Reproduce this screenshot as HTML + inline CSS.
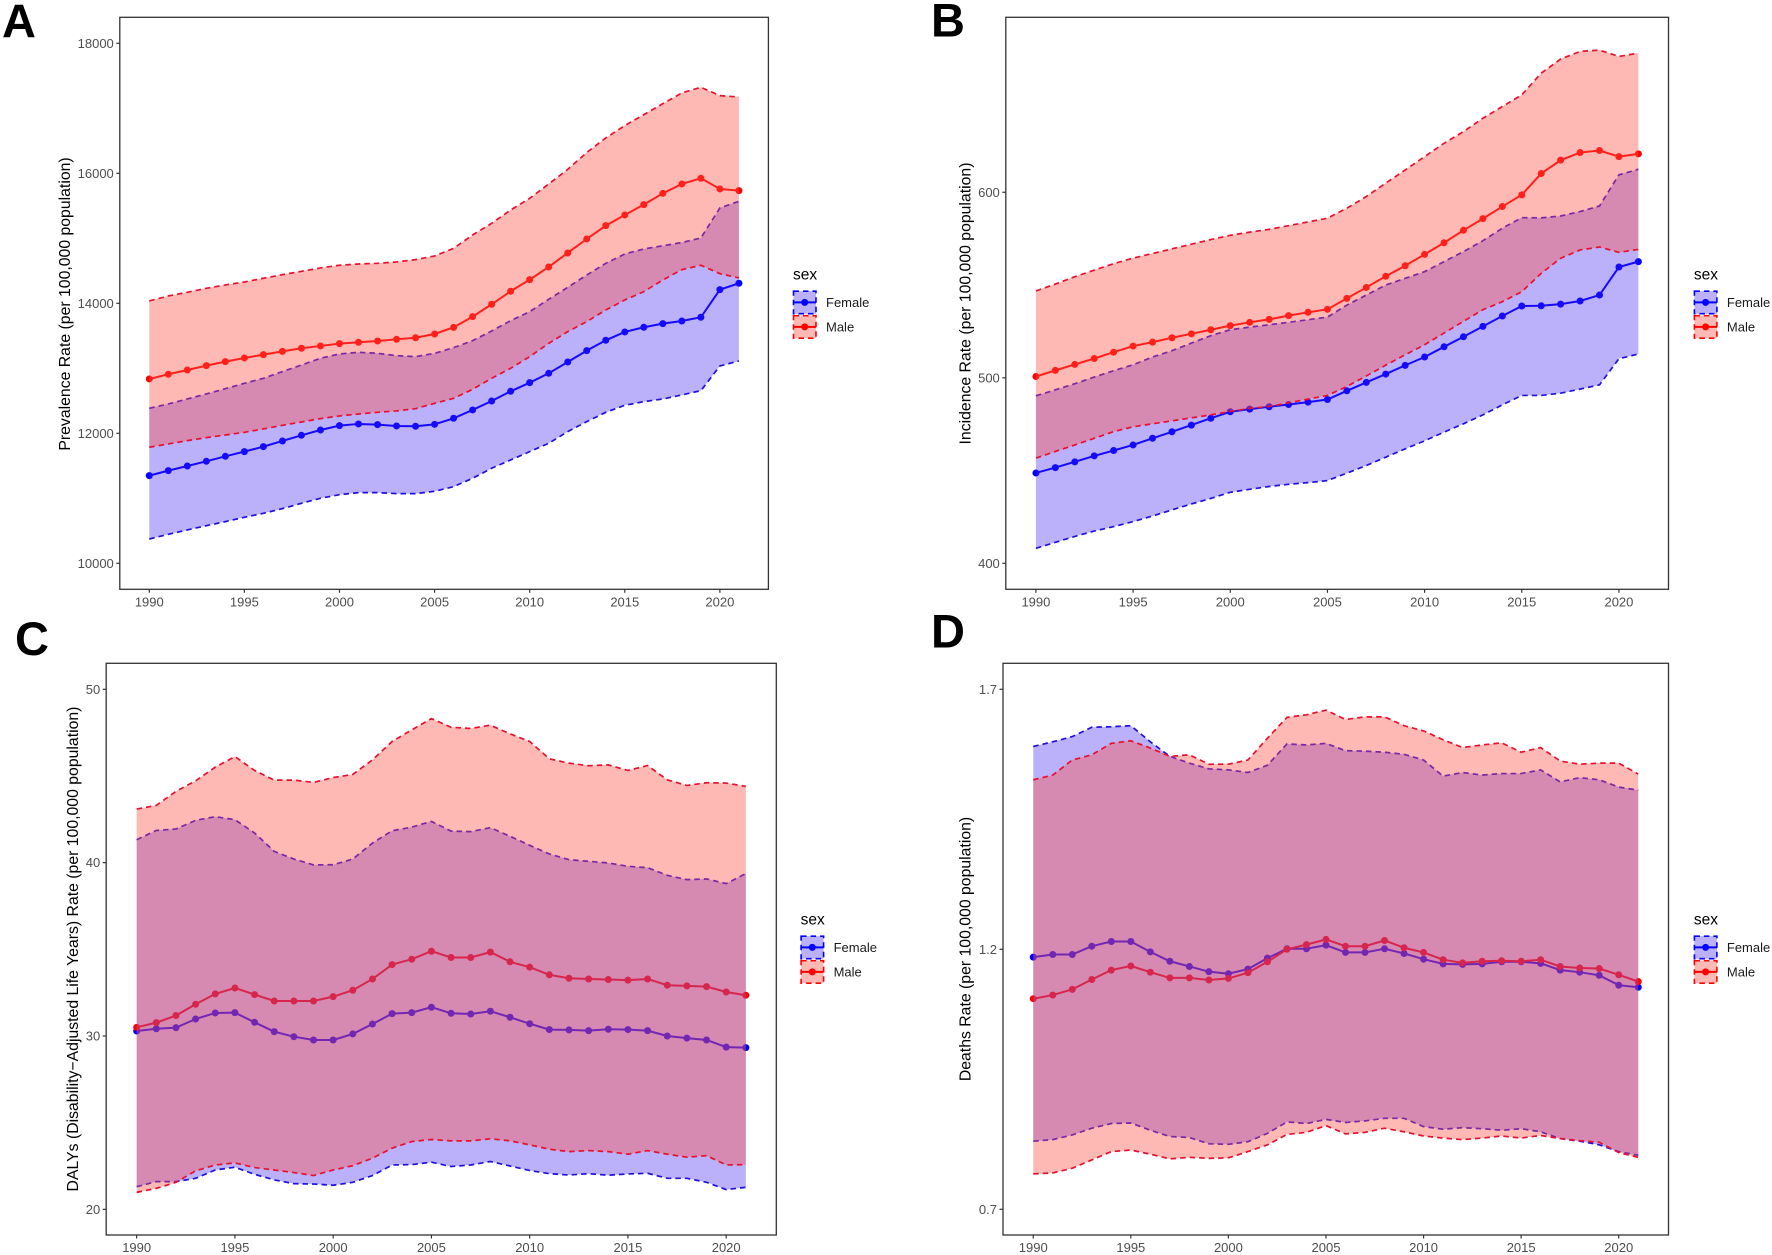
<!DOCTYPE html>
<html lang="en">
<head>
<meta charset="utf-8">
<title>Rates by sex, 1990-2021</title>
<style>
html,body{margin:0;padding:0;background:#fff;}
svg{display:block;}
text{font-family:"Liberation Sans",sans-serif;}
.letter{font-size:47px;font-weight:bold;fill:#000;}
.ytitle{font-size:15.8px;fill:#000;text-anchor:middle;}
</style>
</head>
<body>
<svg id="figure" xmlns="http://www.w3.org/2000/svg" width="1772" height="1255" viewBox="0 0 1772 1255">
  <rect x="0" y="0" width="1772" height="1255" fill="#fff"/>
  <text class="letter" x="2" y="37.5">A</text>
  <text class="letter" x="931" y="36.5">B</text>
  <text class="letter" x="15" y="655">C</text>
  <text class="letter" x="931" y="647.5">D</text>
  <text class="ytitle" transform="translate(70,304) rotate(-90)">Prevalence Rate (per 100,000 population)</text>
  <text class="ytitle" transform="translate(970.5,303.5) rotate(-90)">Incidence Rate (per 100,000 population)</text>
  <text class="ytitle" transform="translate(78,949) rotate(-90)">DALYs (Disability−Adjusted Life Years) Rate (per 100,000 population)</text>
  <text class="ytitle" transform="translate(970.5,949) rotate(-90)">Deaths Rate (per 100,000 population)</text>
</svg>
<script>
const years = [1990,1991,1992,1993,1994,1995,1996,1997,1998,1999,2000,2001,2002,2003,2004,2005,2006,2007,2008,2009,2010,2011,2012,2013,2014,2015,2016,2017,2018,2019,2020,2021];
const xTickLabels = [1990,1995,2000,2005,2010,2015,2020];
const sexLabels = ['Female','Male'];

// Panel A: prevalence
const aTicks = [10000,12000,14000,16000,18000];
const aFemaleMean = [11349,11426,11497,11569,11646,11718,11795,11882,11969,12051,12118,12144,12133,12113,12108,12138,12231,12359,12497,12646,12779,12923,13097,13272,13431,13559,13631,13687,13728,13785,14210,14308];
const aFemaleUpper = [12385,12451,12528,12605,12687,12769,12846,12949,13051,13154,13221,13246,13231,13195,13179,13230,13318,13425,13574,13733,13871,14061,14246,14435,14615,14759,14836,14885,14935,15005,15467,15569];
const aFemaleLower = [10374,10446,10513,10579,10641,10708,10769,10841,10923,11000,11056,11087,11087,11072,11072,11108,11179,11308,11462,11590,11718,11846,12026,12179,12323,12431,12487,12528,12590,12656,13036,13113];
const aMaleMean = [12836,12908,12974,13041,13103,13159,13210,13260,13308,13344,13380,13400,13420,13446,13470,13528,13630,13795,13985,14185,14364,14559,14774,14990,15195,15359,15518,15692,15836,15923,15759,15733];
const aMaleUpper = [14036,14113,14169,14231,14282,14328,14385,14441,14492,14544,14585,14605,14615,14636,14672,14728,14846,15051,15230,15435,15615,15835,16060,16320,16544,16733,16903,17072,17236,17323,17195,17174];
const aMaleLower = [11785,11836,11887,11933,11974,12015,12067,12123,12174,12226,12267,12297,12323,12344,12379,12461,12538,12677,12846,13000,13179,13384,13564,13718,13897,14051,14179,14359,14518,14585,14456,14390];

// Panel B: incidence
const bTicks = [400,500,600];
const bFemaleMean = [448.7,451.6,454.7,457.9,460.8,463.8,467.4,470.9,474.5,478.2,481.7,483.1,484.4,485.6,486.9,488.3,493,497.5,502,506.7,511.2,516.7,522.1,527.7,533.3,538.7,538.8,539.7,541.4,544.6,559.7,562.6];
const bFemaleUpper = [490.3,493.5,496.8,500.4,503.8,507,511.2,514.6,518.7,522.7,525.9,527.3,528.6,529.9,531.3,532.7,539.2,544.6,550,553.6,557.2,562.6,568,573.9,580.6,586.3,586.2,587.2,589.6,592.6,609.4,612.4];
const bFemaleLower = [408.1,411.3,414.5,417.4,419.8,422.5,425.5,428.8,432,435,438.3,439.9,441.4,442.6,443.5,444.6,448.6,452.7,457.2,461.7,466,470.7,475.2,480,485.4,490.5,490.5,491.7,493.9,496.2,510.3,512.8];
const bMaleMean = [500.7,504,507.2,510.4,513.8,517.1,519.2,521.6,523.7,525.9,528.1,529.9,531.5,533.5,535.3,536.9,542.8,548.7,554.7,560.4,566.5,572.8,579.5,585.8,592.3,598.6,610.1,617.3,621.4,622.5,619.2,620.7];
const bMaleUpper = [546.8,550.5,554.5,558,561.5,564.5,567,569.5,572,574.5,576.8,578.5,580,582,584,586,591.4,597.7,604.9,612,619.2,626.4,632.7,639.9,646.2,652.5,664.2,671.8,675.9,676.6,673.2,675];
const bMaleLower = [456.7,460.3,463.8,467.4,471,473.6,475.2,476.8,478.4,480,481.8,483.5,484.5,486.5,488.5,490.5,495.3,501,506.8,512.4,517.8,524.1,530.4,536.7,541,546.4,556.3,564.4,568.9,570.5,567.6,569.2];

// Panel C: DALYs
const cTicks = [20,30,40,50];
const cFemaleMean = [30.29,30.42,30.48,30.98,31.33,31.35,30.79,30.25,29.96,29.77,29.77,30.12,30.69,31.29,31.35,31.66,31.31,31.27,31.43,31.08,30.71,30.37,30.35,30.31,30.39,30.37,30.31,30,29.88,29.77,29.36,29.33];
const cFemaleUpper = [41.32,41.86,41.94,42.44,42.65,42.48,41.71,40.65,40.21,39.87,39.88,40.21,41.13,41.84,42.05,42.38,41.82,41.79,42.02,41.52,41,40.5,40.17,40.08,39.98,39.79,39.71,39.27,39.02,39.06,38.79,39.37];
const cFemaleLower = [21.31,21.6,21.6,21.79,22.27,22.43,22.02,21.7,21.48,21.46,21.39,21.56,21.95,22.56,22.58,22.72,22.47,22.56,22.76,22.5,22.24,22.06,21.98,22.06,21.97,22.04,22.08,21.79,21.79,21.56,21.14,21.27];
const cMaleMean = [30.5,30.77,31.18,31.83,32.43,32.77,32.39,32.02,32.02,32.02,32.27,32.64,33.29,34.12,34.43,34.89,34.53,34.53,34.84,34.28,33.97,33.53,33.33,33.29,33.26,33.22,33.29,32.93,32.89,32.85,32.54,32.35];
const cMaleUpper = [43.09,43.3,44.11,44.72,45.51,46.12,45.32,44.76,44.76,44.63,44.91,45.09,45.93,46.99,47.66,48.31,47.81,47.74,47.93,47.43,46.99,45.99,45.74,45.59,45.64,45.32,45.6,44.78,44.45,44.61,44.59,44.4];
const cMaleLower = [20.98,21.21,21.56,22.22,22.56,22.68,22.41,22.27,22.12,21.95,22.27,22.52,22.95,23.53,23.91,24.03,23.95,23.95,24.07,23.95,23.72,23.47,23.33,23.39,23.33,23.18,23.39,23.18,23.01,23.1,22.56,22.58];

// Panel D: deaths
const dTicks = [0.7,1.2,1.7];
const dFemaleMean = [1.185,1.19,1.19,1.206,1.215,1.215,1.195,1.177,1.167,1.157,1.153,1.162,1.183,1.201,1.201,1.208,1.194,1.194,1.201,1.192,1.181,1.172,1.171,1.172,1.176,1.176,1.173,1.16,1.156,1.15,1.131,1.127];
const dFemaleUpper = [1.59,1.599,1.609,1.627,1.628,1.63,1.599,1.571,1.558,1.547,1.545,1.54,1.554,1.595,1.593,1.596,1.582,1.581,1.579,1.575,1.564,1.533,1.54,1.535,1.538,1.538,1.545,1.522,1.53,1.526,1.512,1.506];
const dFemaleLower = [0.831,0.834,0.843,0.856,0.865,0.866,0.852,0.84,0.838,0.826,0.825,0.83,0.846,0.868,0.865,0.873,0.867,0.87,0.875,0.875,0.859,0.854,0.857,0.855,0.852,0.855,0.849,0.836,0.831,0.824,0.811,0.804];
const dMaleMean = [1.105,1.112,1.123,1.142,1.16,1.168,1.156,1.145,1.145,1.141,1.144,1.155,1.176,1.2,1.209,1.219,1.206,1.206,1.217,1.203,1.194,1.18,1.174,1.177,1.178,1.177,1.18,1.167,1.164,1.163,1.151,1.138];
const dMaleUpper = [1.526,1.535,1.564,1.574,1.596,1.601,1.587,1.571,1.574,1.556,1.556,1.564,1.606,1.646,1.651,1.66,1.642,1.647,1.647,1.63,1.62,1.603,1.588,1.593,1.597,1.579,1.588,1.562,1.556,1.558,1.558,1.537];
const dMaleLower = [0.768,0.77,0.779,0.795,0.811,0.814,0.806,0.797,0.8,0.798,0.799,0.811,0.824,0.844,0.848,0.861,0.845,0.848,0.856,0.849,0.841,0.837,0.834,0.837,0.841,0.837,0.842,0.836,0.832,0.829,0.809,0.8];

const SVG_NS = 'http://www.w3.org/2000/svg';
const figure = document.getElementById('figure');
const LINE_COLORS = {female:'#0000ff', male:'#ff0000'};
const FILL_COLORS = {female:'rgba(61,29,241,0.35)', male:'rgba(255,80,67,0.40)'};
const DASH_COLORS = {female:'#2010e0', male:'#e8102f'};

function make(tag, attrs, parent) {
  const node = document.createElementNS(SVG_NS, tag);
  for (const k in attrs) node.setAttribute(k, attrs[k]);
  parent.appendChild(node);
  return node;
}

function pointsOf(xs, ys, sx, sy) {
  return xs.map((v, i) => sx(v).toFixed(2) + ',' + sy(ys[i]).toFixed(2)).join(' ');
}

function drawSeries(root, key, panelKey, mean, sx, sy) {
  const line = make('polyline', {points: pointsOf(years, mean, sx, sy), fill:'none', stroke:LINE_COLORS[key], 'stroke-width':2}, root);
  
  
  years.forEach((yr, i) => {
    const dot = make('circle', {cx: sx(yr).toFixed(2), cy: sy(mean[i]).toFixed(2), r:3.5, fill:LINE_COLORS[key]}, root);
    
    
  });
}

function drawRibbon(root, key, panelKey, upper, lower, sx, sy) {
  const up = pointsOf(years, upper, sx, sy);
  const revYears = years.slice().reverse();
  const revLower = lower.slice().reverse();
  const low = pointsOf(revYears, revLower, sx, sy);
  const area = make('polygon', {points: up + ' ' + low, fill:FILL_COLORS[key], stroke:'none'}, root);
  
  
  const edgeUp = make('polyline', {points: up, fill:'none', stroke:DASH_COLORS[key], 'stroke-width':1.7, 'stroke-dasharray':'5.5 4'}, root);
  
  
  const edgeLow = make('polyline', {points: pointsOf(years, lower, sx, sy), fill:'none', stroke:DASH_COLORS[key], 'stroke-width':1.7, 'stroke-dasharray':'5.5 4'}, root);
  
  
}

function drawLegend(root, panelKey, lx, ly) {
  const title = make('text', {x: lx, y: ly - 11, 'font-size': 15.5, fill:'#000'}, root);
  title.textContent = 'sex';
  
  
  sexLabels.forEach((label, i) => {
    const key = label.toLowerCase();
    const top = ly + i * 24.5;
    const box = make('rect', {x: lx + 0.5, y: top + 0.5, width: 22.5, height: 22.5, fill: FILL_COLORS[key], stroke: 'none'}, root);
    
    
    const border = make('rect', {x: lx + 0.5, y: top + 0.5, width: 22.5, height: 22.5, fill: 'none', stroke: LINE_COLORS[key], 'stroke-width': 1.6, 'stroke-dasharray': '5.5 4'}, root);
    
    
    const stroke = make('line', {x1: lx + 0.5, x2: lx + 23, y1: top + 11.7, y2: top + 11.7, stroke: LINE_COLORS[key], 'stroke-width': 2}, root);
    
    
    const dot = make('circle', {cx: lx + 11.7, cy: top + 11.7, r: 3.5, fill: LINE_COLORS[key]}, root);
    
    
    const text = make('text', {x: lx + 33, y: top + 16.3, 'font-size': 13, fill:'#1a1a1a'}, root);
    text.textContent = label;
    
    
  });
}

function drawPanel(cfg) {
  const root = make('g', {}, figure);
  
  
  const sx = v => cfg.left + (v - 1988.45) / (2022.55 - 1988.45) * (cfg.right - cfg.left);
  const sy = v => cfg.bottom - (v - cfg.yMin) / (cfg.yMax - cfg.yMin) * (cfg.bottom - cfg.top);

  drawSeries(root, 'female', cfg.key, cfg.femaleMean, sx, sy);
  drawSeries(root, 'male', cfg.key, cfg.maleMean, sx, sy);
  drawRibbon(root, 'female', cfg.key, cfg.femaleUpper, cfg.femaleLower, sx, sy);
  drawRibbon(root, 'male', cfg.key, cfg.maleUpper, cfg.maleLower, sx, sy);

  const frame = make('rect', {x: cfg.left, y: cfg.top, width: cfg.right - cfg.left, height: cfg.bottom - cfg.top, fill:'none', stroke:'#333', 'stroke-width':1.3}, root);
  
  

  xTickLabels.forEach(t => {
    const tick = make('line', {x1: sx(t), x2: sx(t), y1: cfg.bottom, y2: cfg.bottom + 3.5, stroke:'#333', 'stroke-width':1.2}, root);
    
    
    const lab = make('text', {x: sx(t), y: cfg.bottom + 17, 'font-size': 13, fill:'#4d4d4d', 'text-anchor':'middle'}, root);
    lab.textContent = t;
    
    
  });
  cfg.ticks.forEach(t => {
    const tick = make('line', {x1: cfg.left - 3.5, x2: cfg.left, y1: sy(t), y2: sy(t), stroke:'#333', 'stroke-width':1.2}, root);
    
    
    const lab = make('text', {x: cfg.left - 6, y: sy(t) + 4.6, 'font-size': 13, fill:'#4d4d4d', 'text-anchor':'end'}, root);
    lab.textContent = t;
    
    
  });
  drawLegend(root, cfg.key, cfg.legendX, cfg.legendY);
}

drawPanel({key:'prevalence', left:119.8, right:768.4, top:17.3, bottom:589.3, yMin:9600, yMax:18400, ticks:aTicks,
  femaleMean:aFemaleMean, femaleUpper:aFemaleUpper, femaleLower:aFemaleLower, maleMean:aMaleMean, maleUpper:aMaleUpper, maleLower:aMaleLower, legendX:793, legendY:290.7});
drawPanel({key:'incidence', left:1005.8, right:1668.5, top:17.3, bottom:589.3, yMin:386, yMax:694.3, ticks:bTicks,
  femaleMean:bFemaleMean, femaleUpper:bFemaleUpper, femaleLower:bFemaleLower, maleMean:bMaleMean, maleUpper:bMaleUpper, maleLower:bMaleLower, legendX:1693.9, legendY:290.7});
drawPanel({key:'dalys', left:106.2, right:776.3, top:663.3, bottom:1235, yMin:18.52, yMax:51.5, ticks:cTicks,
  femaleMean:cFemaleMean, femaleUpper:cFemaleUpper, femaleLower:cFemaleLower, maleMean:cMaleMean, maleUpper:cMaleUpper, maleLower:cMaleLower, legendX:800.6, legendY:935.7});
drawPanel({key:'deaths', left:1003, right:1668.5, top:663.3, bottom:1235, yMin:0.6506, yMax:1.75, ticks:dTicks,
  femaleMean:dFemaleMean, femaleUpper:dFemaleUpper, femaleLower:dFemaleLower, maleMean:dMaleMean, maleUpper:dMaleUpper, maleLower:dMaleLower, legendX:1693.9, legendY:935.7});
</script>
</body>
</html>
